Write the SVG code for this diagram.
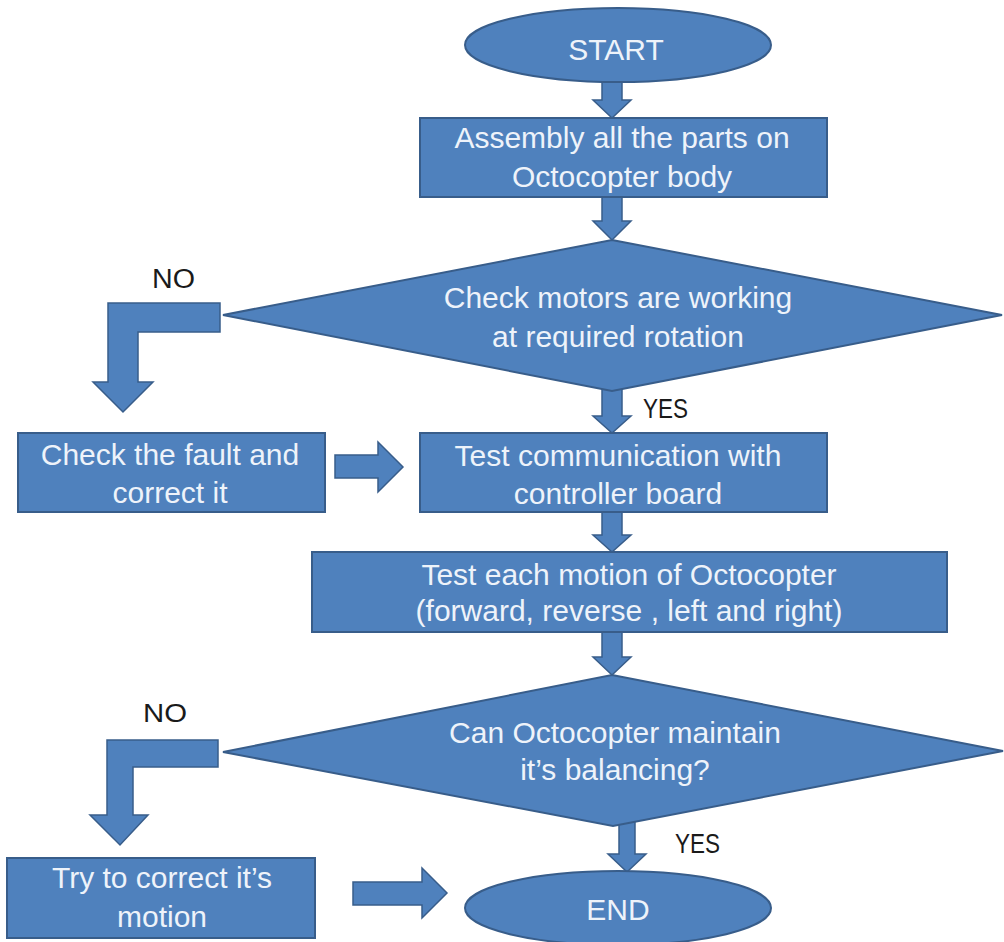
<svg xmlns="http://www.w3.org/2000/svg" width="1004" height="942" viewBox="0 0 1004 942">
<style>
.shape{fill:#4f81bd;stroke:#385d8a;stroke-width:2;stroke-linejoin:miter}
.arrow{fill:#4f81bd;stroke:#385d8a;stroke-width:1.5;stroke-linejoin:miter}
.t{font-family:"Liberation Sans",Arial,sans-serif;font-size:30px;fill:#eef3fa;text-anchor:middle}
.lbl{font-family:"Liberation Sans",Arial,sans-serif;fill:#1a1a1a}
</style>
<rect width="1004" height="942" fill="#ffffff"/>
<g id="connectors">
<polygon class="arrow" points="602,75 622,75 622,100 631,100 612,118 593,100 602,100"/>
<polygon class="arrow" points="602,196 622,196 622,221 631,221 612,240 593,221 602,221"/>
<polygon class="arrow" points="602,388 622,388 622,416 631,416 612,433 593,416 602,416"/>
<polygon class="arrow" points="602,511 622,511 622,535 631,535 612,552 593,535 602,535"/>
<polygon class="arrow" points="602,631 622,631 622,657 631,657 612,675 593,657 602,657"/>
<polygon class="arrow" points="619,818 635,818 635,854 646,854 627,872 608,854 619,854"/>
<polygon class="arrow" points="335,455 378,455 378,442 403,467 378,492 378,478 335,478"/>
<polygon class="arrow" points="353,882 422,882 422,868 447,893 422,918 422,905 353,905"/>
<polygon class="arrow" points="220,303 108,303 108,382 93,382 123,412 153,382 138,382 138,332 220,332"/>
<polygon class="arrow" points="218,740 107,740 107,815 90,815 120,845 148,815 133,815 133,767 218,767"/>
<text class="lbl" x="152" y="288" font-size="27" textLength="43" lengthAdjust="spacingAndGlyphs">NO</text>
<text class="lbl" x="643" y="418" font-size="27" textLength="45" lengthAdjust="spacingAndGlyphs">YES</text>
<text class="lbl" x="143" y="722" font-size="25" textLength="44" lengthAdjust="spacingAndGlyphs">NO</text>
<text class="lbl" x="675" y="853" font-size="27" textLength="45" lengthAdjust="spacingAndGlyphs">YES</text>
</g>
<g id="start">
<ellipse class="shape" cx="618" cy="45" rx="153" ry="37"/>
<text class="t" x="616" y="60" font-size="27">START</text>
</g>
<g id="assembly">
<rect class="shape" x="420" y="118" width="407" height="79"/>
<text class="t" x="622" y="148">Assembly all the parts on</text>
<text class="t" x="622" y="187">Octocopter body</text>
</g>
<g id="check-motors">
<polygon class="shape" points="612,240 1002,315 612,391 223,315"/>
<text class="t" x="618" y="308">Check motors are working</text>
<text class="t" x="618" y="347">at required rotation</text>
</g>
<g id="check-fault">
<rect class="shape" x="18" y="433" width="307" height="79"/>
<text class="t" x="170" y="465">Check the fault and</text>
<text class="t" x="170" y="503">correct it</text>
</g>
<g id="test-communication">
<rect class="shape" x="420" y="433" width="407" height="79"/>
<text class="t" x="618" y="466">Test communication with</text>
<text class="t" x="618" y="504">controller board</text>
</g>
<g id="test-motion">
<rect class="shape" x="312" y="552" width="635" height="80"/>
<text class="t" x="629" y="585">Test each motion of Octocopter</text>
<text class="t" x="629" y="621">(forward, reverse , left  and right)</text>
</g>
<g id="can-balance">
<polygon class="shape" points="612,675 1003,751 613,826 223,752"/>
<text class="t" x="615" y="743">Can Octocopter maintain</text>
<text class="t" x="615" y="780">it’s balancing?</text>
</g>
<g id="try-correct">
<rect class="shape" x="7" y="858" width="308" height="80"/>
<text class="t" x="162" y="888">Try to correct it’s</text>
<text class="t" x="162" y="927">motion</text>
</g>
<g id="end">
<ellipse class="shape" cx="618" cy="908" rx="153" ry="37"/>
<text class="t" x="618" y="920" font-size="27">END</text>
</g>
</svg>
